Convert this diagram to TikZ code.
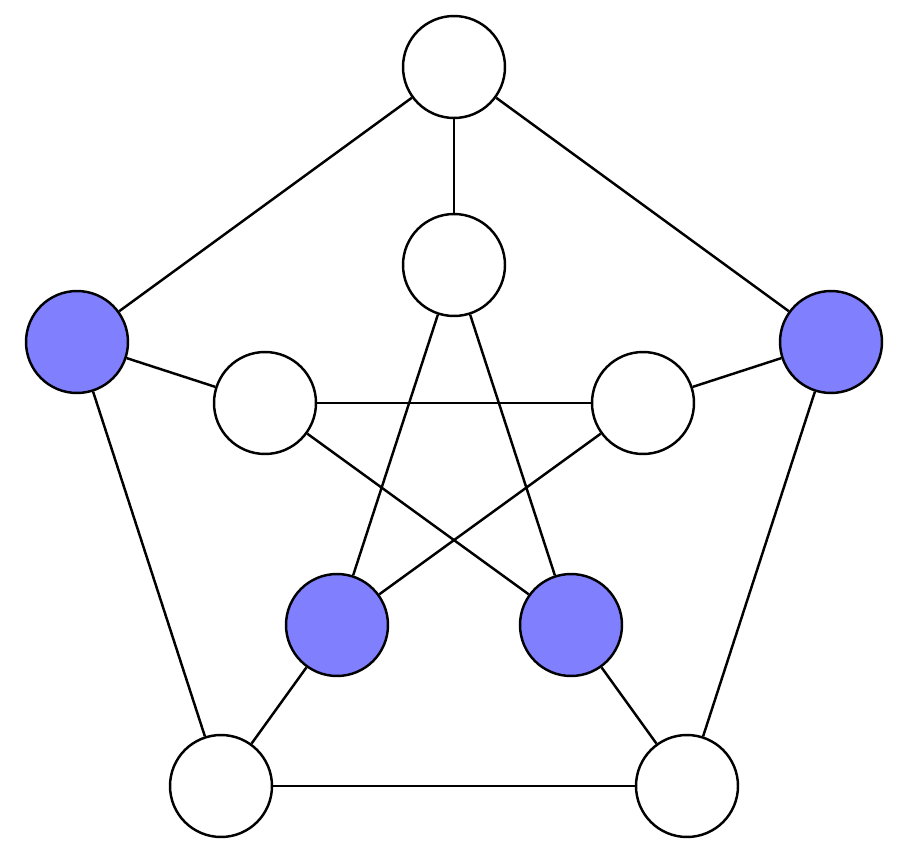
\documentclass[tikz,border=0pt]{standalone}
\usetikzlibrary{positioning}
\tikzset{
    vnode/.style = {draw, circle, line width=1.4pt, minimum size=2.04cm, inner sep=0em, fill=white},
    bnode/.style = {vnode, fill=blue!50},
    link/.style  = {black, line width=1.4pt}
}
\begin{document}
\begin{tikzpicture}[x=0.02cm, y=-0.02cm]
    \useasboundingbox (0,0) rectangle (910,858);

    % outer pentagon
    \node [name=o1, vnode] at (454,67) {};
    \node [name=o2, bnode] at (831,342) {};
    \node [name=o3, vnode] at (687,786) {};
    \node [name=o4, vnode] at (221,786) {};
    \node [name=o5, bnode] at (77,342) {};

    % inner star
    \node [name=i1, vnode] at (454,265) {};
    \node [name=i2, vnode] at (643,403) {};
    \node [name=i3, bnode] at (571,625) {};
    \node [name=i4, bnode] at (337,625) {};
    \node [name=i5, vnode] at (265,403) {};

    \begin{scope}[on background layer/.style={}]
    \foreach \a/\b in {o1/o2, o2/o3, o3/o4, o4/o5, o5/o1,
                       o1/i1, o2/i2, o3/i3, o4/i4, o5/i5,
                       i1/i3, i3/i5, i5/i2, i2/i4, i4/i1}
        \draw [link] (\a) -- (\b);
    \end{scope}
\end{tikzpicture}
\end{document}
